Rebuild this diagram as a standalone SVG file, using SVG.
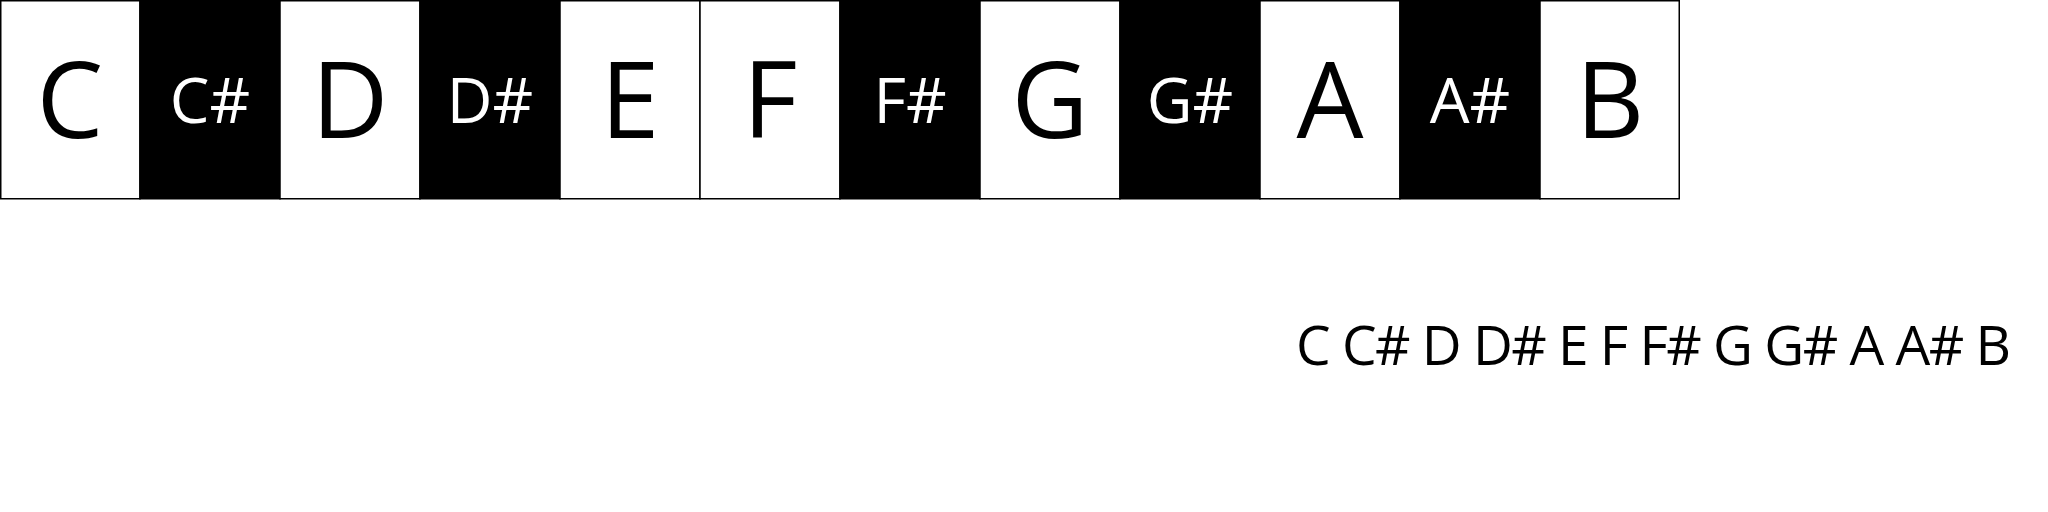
<svg xmlns="http://www.w3.org/2000/svg" width="2048" height="512" viewBox="0 0 2048 512">
<style>
.w{fill:#fff;stroke:#000;stroke-width:1.5}
.b{fill:#000;stroke:#000;stroke-width:1.5}
.tw{font-family:"Open Sans","Liberation Sans",sans-serif;font-size:106px;fill:#000;text-anchor:middle}
.tb{font-family:"Open Sans","Liberation Sans",sans-serif;font-size:63px;fill:#fff;text-anchor:middle}
.row{font-family:"Open Sans","Liberation Sans",sans-serif;font-size:55px;fill:#000}
</style>
<rect width="2048" height="512" fill="#fff"/>
<g id="key-C"><rect class="w" x="0.75" y="0.75" width="139.25" height="198"/><text class="tw" x="70" y="138">C</text></g>
<g id="key-Cs"><rect class="b" x="140" y="0.75" width="140" height="198"/><text class="tb" x="210" y="123">C#</text></g>
<g id="key-D"><rect class="w" x="280" y="0.75" width="140" height="198"/><text class="tw" x="350" y="138">D</text></g>
<g id="key-Ds"><rect class="b" x="420" y="0.75" width="140" height="198"/><text class="tb" x="490" y="123">D#</text></g>
<g id="key-E"><rect class="w" x="560" y="0.75" width="140" height="198"/><text class="tw" x="630" y="138">E</text></g>
<g id="key-F"><rect class="w" x="700" y="0.75" width="140" height="198"/><text class="tw" x="770" y="138">F</text></g>
<g id="key-Fs"><rect class="b" x="840" y="0.75" width="140" height="198"/><text class="tb" x="910" y="123">F#</text></g>
<g id="key-G"><rect class="w" x="980" y="0.75" width="140" height="198"/><text class="tw" x="1050" y="138">G</text></g>
<g id="key-Gs"><rect class="b" x="1120" y="0.75" width="140" height="198"/><text class="tb" x="1190" y="123">G#</text></g>
<g id="key-A"><rect class="w" x="1260" y="0.75" width="140" height="198"/><text class="tw" x="1330" y="138">A</text></g>
<g id="key-As"><rect class="b" x="1400" y="0.75" width="140" height="198"/><text class="tb" x="1470" y="123">A#</text></g>
<g id="key-B"><rect class="w" x="1540" y="0.75" width="139.25" height="198"/><text class="tw" x="1610" y="138">B</text></g>
<g id="connectors"/>
<g id="scale-row"><text class="row" x="1296" y="365" textLength="715" lengthAdjust="spacing">C C# D D# E F F# G G# A A# B</text></g>
</svg>
